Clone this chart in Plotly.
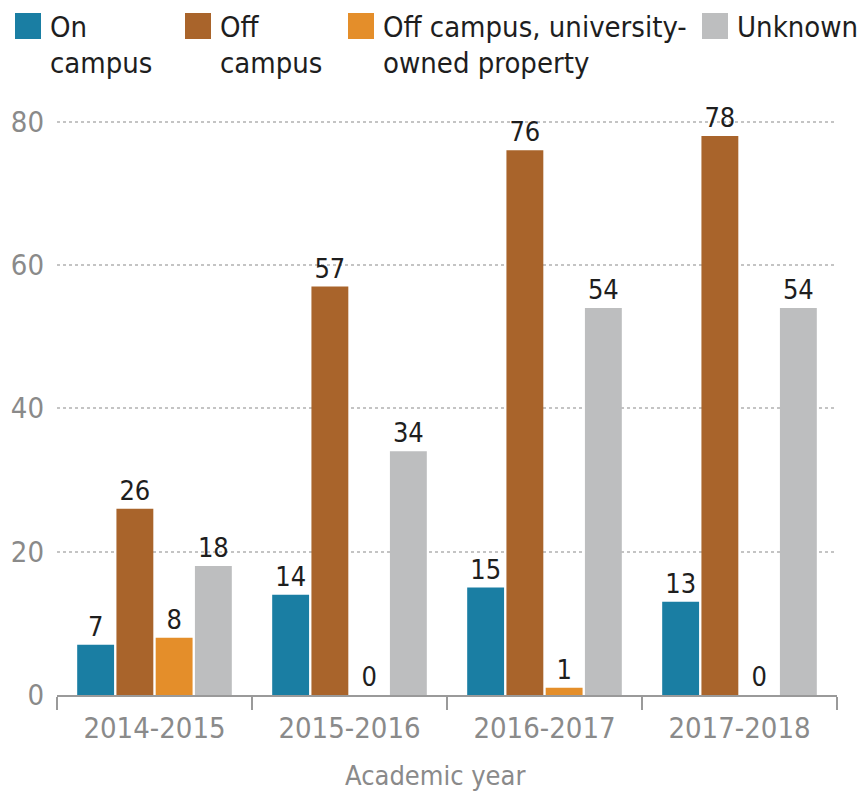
import plotly.graph_objects as go

years = ["2014-2015", "2015-2016", "2016-2017", "2017-2018"]
series_names = ["On campus", "Off campus", "Off campus, university-owned property", "Unknown"]
on_campus = [7, 14, 15, 13]
off_campus = [26, 57, 76, 78]
off_campus_univ = [8, 0, 1, 0]
unknown = [18, 34, 54, 54]
legend_lines = [["On", "campus"], ["Off", "campus"],
                ["Off campus, university-", "owned property"], ["Unknown", ""]]
y_ticks = [0, 20, 40, 60, 80]

colors = ["#1a7ea3", "#a9642b", "#e48e2a", "#bdbebf"]
FONT = "DejaVu Sans Condensed, DejaVu Sans, sans-serif"

W, H = 866, 791
L, R, T, B = 57, 29, 93, 96
pw, ph = W - L - R, H - T - B

def px(x):
    return (x - L) / pw

def py(y):
    return (H - B - y) / ph

fig = go.Figure()
for name, vals, col in zip(series_names, [on_campus, off_campus, off_campus_univ, unknown], colors):
    fig.add_trace(go.Bar(
        x=years, y=vals, name=name, marker=dict(color=col, line=dict(width=0)),
        text=[str(v) for v in vals], textposition="outside",
        textfont=dict(family=FONT, size=27, color="#1e1e1e"),
        cliponaxis=False, showlegend=False,
    ))

# manual legend
sq_x = [15, 185, 348, 702]
txt_x = [48, 218, 381, 735]
shapes = []
annotations = []
for i in range(4):
    shapes.append(dict(type="rect", xref="paper", yref="paper",
                       x0=px(sq_x[i]), x1=px(sq_x[i] + 26), y0=py(39), y1=py(13),
                       fillcolor=colors[i], line=dict(width=0)))
    for j, line in enumerate(legend_lines[i]):
        if not line:
            continue
        annotations.append(dict(text=line, xref="paper", yref="paper",
                                x=px(txt_x[i]), y=py(27 if j == 0 else 63),
                                xanchor="left", yanchor="middle", showarrow=False,
                                font=dict(family=FONT, size=29, color="#1e1e1e")))

annotations.append(dict(text="Academic year", xref="paper", yref="paper",
                        x=px(435), y=py(775), xanchor="center", yanchor="middle",
                        showarrow=False, font=dict(family=FONT, size=27, color="#8a8a8a")))

fig.update_layout(
    width=W, height=H,
    margin=dict(l=L, r=R, t=T, b=B),
    paper_bgcolor="white", plot_bgcolor="white",
    barmode="group", bargap=0.195, bargroupgap=0.06,
    shapes=shapes, annotations=annotations,
    font=dict(family=FONT),
    xaxis=dict(
        showline=True, linecolor="#9a9a9a", linewidth=1.5,
        ticks="outside", tickson="boundaries", ticklen=13, tickwidth=1.5, tickcolor="#9a9a9a",
        ticklabelstandoff=6,
        tickfont=dict(family=FONT, size=29, color="#8a8a8a"),
        showgrid=False, zeroline=False,
    ),
    yaxis=dict(
        range=[0, 84], tickvals=y_ticks, ticktext=[str(v) for v in y_ticks],
        showline=False, ticks="", ticklabelstandoff=12,
        tickfont=dict(family=FONT, size=29, color="#8a8a8a"),
        showgrid=True, gridcolor="#c4c4c4", gridwidth=1.5, griddash="dot",
        zeroline=False,
    ),
)

fig.write_html("out.html")
